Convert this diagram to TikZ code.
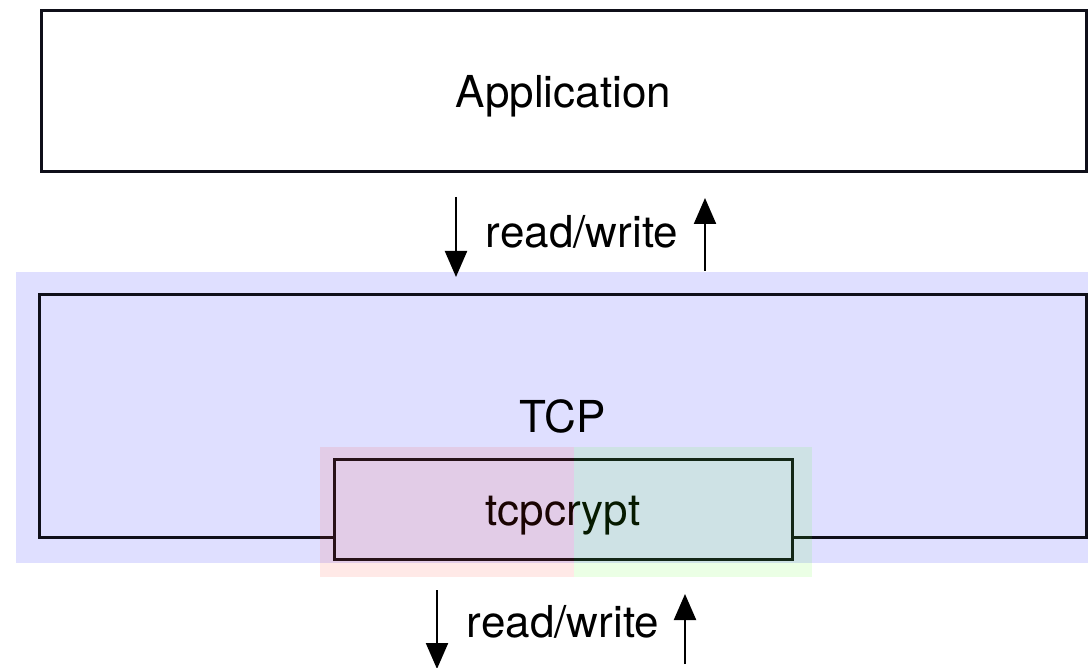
\documentclass[tikz,border=0pt]{standalone}
\usepackage{fontspec}
\setmainfont{TeX Gyre Heros}
\usetikzlibrary{arrows.meta}
\definecolor{layerblue}{RGB}{223,223,255}
\definecolor{lineblack}{RGB}{15,15,25}
\definecolor{tintred}{RGB}{255,40,20}
\definecolor{tintgreen}{RGB}{60,255,0}
\tikzset{
  lbl/.style={font=\fontsize{44}{50}\selectfont, text=black},
  box/.style={draw=lineblack, line width=3pt, inner sep=0pt, lbl,
              text height=32pt, text depth=0pt},
  flow/.style={line width=2.2pt, -{Triangle[length=26pt,width=22pt]}},
}
\begin{document}
\begin{tikzpicture}[x=1pt,y=-1pt]
\useasboundingbox (0,0) rectangle (1088,668);

% application layer
\node[box, minimum width=1045pt, minimum height=161pt] (app) at (563.5,91.5) {Application};

% TCP layer band and its box
\fill[layerblue] (16,272) rectangle (1088,563);
\node[box, minimum width=1047pt, minimum height=242pt] (tcp) at (562.5,416) {TCP};

% tcpcrypt sits on the bottom edge of the TCP box
\node[box, fill=layerblue, minimum width=458pt, minimum height=100pt] (crypt) at (563,509.5) {tcpcrypt};

% tinted halves over tcpcrypt
\fill[tintred, opacity=0.1] (320,447) rectangle (574,577);
\fill[tintgreen, opacity=0.1] (574,447) rectangle (812,577);

% read/write between application and TCP
\coordinate (d1s) at (456,197);
\coordinate (d1e) at (456,277);
\coordinate (u1s) at (705,271);
\coordinate (u1e) at (705,198);
\draw[flow] (d1s) -- (d1e);
\draw[flow] (u1s) -- (u1e);
\node[lbl, anchor=base] (rw1) at (582,248) {read/write};

% read/write below tcpcrypt
\coordinate (d2s) at (437,590);
\coordinate (d2e) at (437,669);
\coordinate (u2s) at (685,664);
\coordinate (u2e) at (685,594);
\draw[flow] (d2s) -- (d2e);
\draw[flow] (u2s) -- (u2e);
\node[lbl, anchor=base] (rw2) at (563,637) {read/write};
\end{tikzpicture}
\end{document}
